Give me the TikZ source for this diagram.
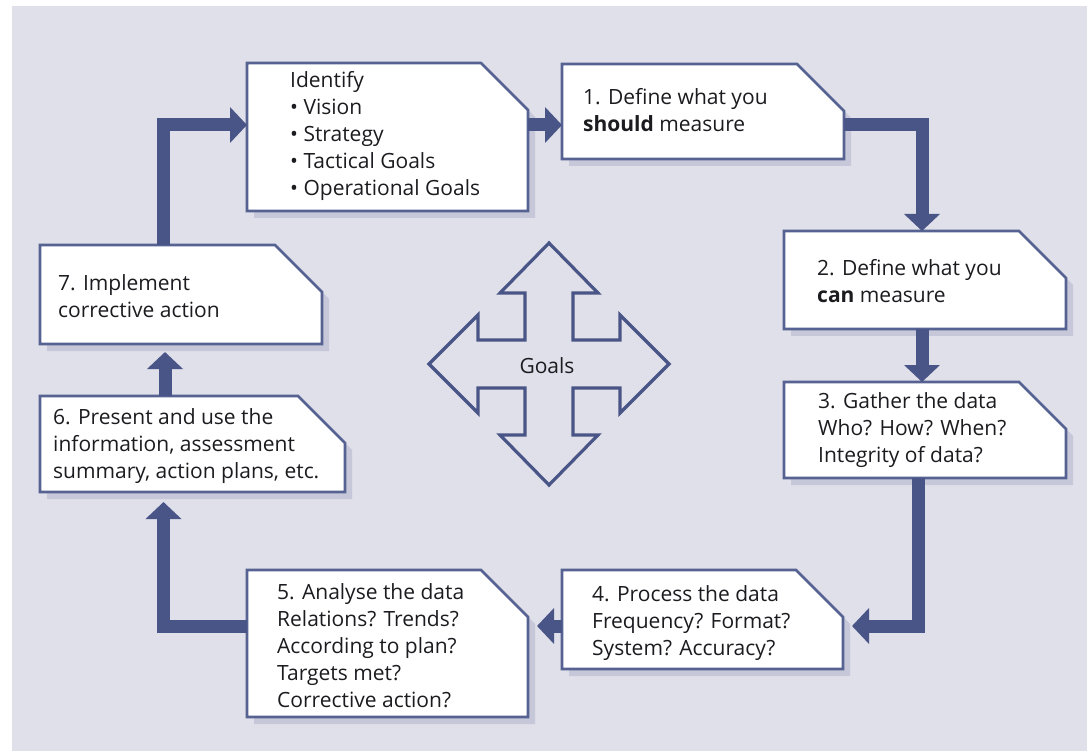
\documentclass[tikz,border=0pt]{standalone}
\usepackage{fontspec}
\setmainfont{Open Sans}
\usetikzlibrary{arrows.meta}

\definecolor{paper}{RGB}{224,224,234}
\definecolor{ink}{RGB}{74,85,135}
\definecolor{cardline}{RGB}{86,98,146}
\definecolor{cardshade}{RGB}{198,199,217}
\definecolor{txt}{RGB}{28,28,32}

\tikzset{
  card/.style={draw=none, inner sep=0pt, outer sep=0pt},
  cardtext/.style={anchor=base west, align=left, inner sep=0pt, text=txt,
    font=\fontsize{21}{27}\selectfont},
  flow/.style={draw=ink, line width=13pt, line join=miter, line cap=butt,
    -{Triangle[width=35pt,length=17pt]}},
  crossline/.style={draw=ink, line width=3.2pt, line join=miter},
}

% card outline with a clipped top-right corner and a soft offset shadow
\newcommand\cardshape[1]{%
  \fill[cardshade] ([shift={(7,7)}]#1.south west) -- ([shift={(7,7)}]#1.north west)
    -- ([shift={(-40,7)}]#1.north east) -- ([shift={(7,54)}]#1.north east)
    -- ([shift={(7,7)}]#1.south east) -- cycle;
  \filldraw[fill=white, draw=cardline, line width=2.6pt, line join=miter]
    (#1.south west) -- (#1.north west) -- ([shift={(-47,0)}]#1.north east)
    -- ([shift={(0,47)}]#1.north east) -- (#1.south east) -- cycle;
}

\begin{document}
\begin{tikzpicture}[x=1pt, y=-1pt]
  \useasboundingbox (0,0) rectangle (1087,751);
  \fill[white] (0,0) rectangle (1087,751);
  \fill[paper] (12,6) rectangle (1087,751);

  % card frames
  \node[card, minimum width=281pt, minimum height=148pt] (id) at (387.5,137) {};
  \node[card, minimum width=282pt, minimum height=95pt]  (b1) at (703,111.5) {};
  \node[card, minimum width=282pt, minimum height=98pt]  (b2) at (925,280) {};
  \node[card, minimum width=282pt, minimum height=96pt]  (b3) at (925,430) {};
  \node[card, minimum width=281pt, minimum height=99pt]  (b4) at (702.5,619.5) {};
  \node[card, minimum width=281pt, minimum height=147pt] (b5) at (387.5,643.5) {};
  \node[card, minimum width=305pt, minimum height=96pt]  (b6) at (192.5,444) {};
  \node[card, minimum width=282pt, minimum height=99pt]  (b7) at (181,294.5) {};

  \cardshape{id}
  \cardshape{b1}
  \cardshape{b2}
  \cardshape{b3}
  \cardshape{b4}
  \cardshape{b5}
  \cardshape{b6}
  \cardshape{b7}

  % card texts (placed by the baseline of their last line)
  \node[cardtext] (tid) at ([shift={(43,133)}]id.north west)
    {Identify\\• Vision\\• Strategy\\• Tactical Goals\\• Operational Goals};
  \node[cardtext] (t1) at ([shift={(21,68)}]b1.north west)
    {1. Define what you\\\textbf{should} measure};
  \node[cardtext] (t2) at ([shift={(33,72)}]b2.north west)
    {2. Define what you\\\textbf{can} measure};
  \node[cardtext] (t3) at ([shift={(34,80)}]b3.north west)
    {3. Gather the data\\Who? How? When?\\Integrity of data?};
  \node[cardtext] (t4) at ([shift={(30,85)}]b4.north west)
    {4. Process the data\\Frequency? Format?\\System? Accuracy?};
  \node[cardtext] (t5) at ([shift={(30,137)}]b5.north west)
    {5. Analyse the data\\Relations? Trends?\\According to plan?\\Targets met?\\Corrective action?};
  \node[cardtext] (t6) at ([shift={(13,82)}]b6.north west)
    {6. Present and use the\\information, assessment\\summary, action plans, etc.};
  \node[cardtext] (t7) at ([shift={(18,72)}]b7.north west)
    {7. Implement\\corrective action};

  % bends of the cycle
  \coordinate (kTop) at (163.5,125);
  \coordinate (kRight) at (922,125);
  \coordinate (kLow) at (918,626);
  \coordinate (kLeft) at (163.5,626);

  % cycle connectors
  \draw[flow] (kTop |- b7.north) -- (kTop) -- (kTop -| id.west);
  \draw[flow] (kTop -| id.east) -- (kTop -| b1.west);
  \draw[flow] (kRight -| b1.east) -- (kRight) -- (kRight |- b2.north);
  \draw[flow] (kRight |- b2.south) -- (kRight |- b3.north);
  \draw[flow, shorten >=9pt] (kLow |- b3.south) -- (kLow) -- (kLow -| b4.east);
  \draw[flow, shorten >=9pt] (kLow -| b4.west) -- (kLow -| b5.east);
  \draw[flow, shorten >=10pt] (kLeft -| b5.west) -- (kLeft) -- (kLeft |- b6.south);
  \draw[flow, shorten >=8pt] (165,0 |- b6.north) -- (165,0 |- b7.south);

  % four-way goals arrow
  \node[inner sep=0pt, text=txt, font=\fontsize{21}{24}\selectfont] (goals) at (547,366) {Goals};
  \draw[crossline, shift={(549,364)}]
    (0,-121) -- (49,-71) -- (24,-71) -- (24,-24) -- (71,-24) -- (71,-49)
    -- (120,0) -- (71,49) -- (71,24) -- (24,24) -- (24,71) -- (49,71)
    -- (0,121) -- (-49,71) -- (-24,71) -- (-24,24) -- (-71,24) -- (-71,49)
    -- (-120,0) -- (-71,-49) -- (-71,-24) -- (-24,-24) -- (-24,-71) -- (-49,-71)
    -- cycle;
\end{tikzpicture}
\end{document}
